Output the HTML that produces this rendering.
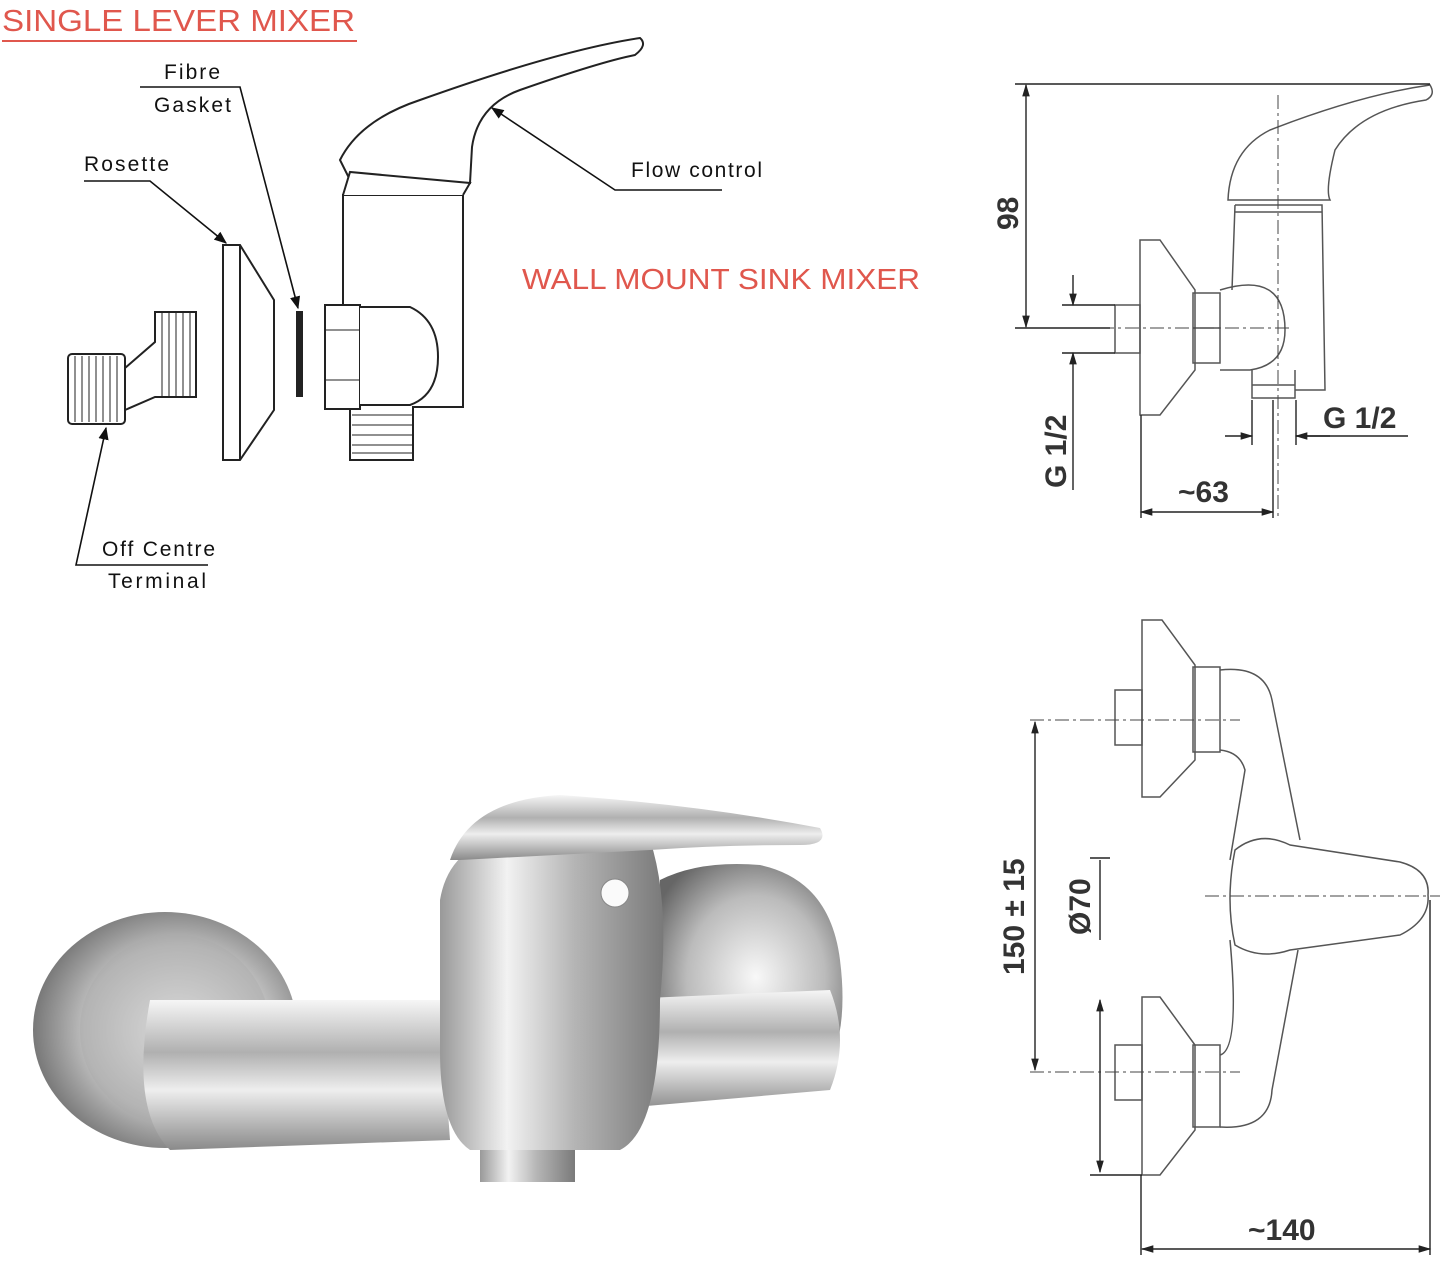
<!DOCTYPE html>
<html><head><meta charset="utf-8"><style>
html,body{margin:0;padding:0;background:#fff;}
svg{display:block;}
text{font-family:"Liberation Sans",sans-serif;}
</style></head><body>
<svg width="1447" height="1264" viewBox="0 0 1447 1264" xmlns="http://www.w3.org/2000/svg">
<defs>
<marker id="ar" viewBox="0 0 10 10" refX="9" refY="5" markerWidth="8" markerHeight="8" orient="auto-start-reverse"><path d="M0,1 L10,5 L0,9 z" fill="#111"/></marker>
<marker id="ab" viewBox="0 0 10 10" refX="9" refY="5" markerWidth="9" markerHeight="9" orient="auto-start-reverse"><path d="M0,2 L10,5 L0,8 z" fill="#222"/></marker>
<linearGradient id="chr" x1="0" y1="0" x2="0" y2="1"><stop offset="0" stop-color="#f6f6f6"/><stop offset=".35" stop-color="#b0b0b0"/><stop offset=".6" stop-color="#eeeeee"/><stop offset="1" stop-color="#8a8a8a"/></linearGradient>
<linearGradient id="chh" x1="0" y1="0" x2="1" y2="0"><stop offset="0" stop-color="#999"/><stop offset=".3" stop-color="#f2f2f2"/><stop offset=".6" stop-color="#b5b5b5"/><stop offset="1" stop-color="#7a7a7a"/></linearGradient>
<radialGradient id="ros" cx=".55" cy=".5" r=".6"><stop offset="0" stop-color="#f8f8f8"/><stop offset=".6" stop-color="#bbb"/><stop offset="1" stop-color="#666"/></radialGradient>
</defs>

<text x="2" y="31" font-size="31" fill="#e0574d" textLength="353" lengthAdjust="spacingAndGlyphs">SINGLE LEVER MIXER</text>
<line x1="2" y1="41" x2="357" y2="41" stroke="#e0574d" stroke-width="2"/>
<text x="522" y="289" font-size="29" fill="#e0574d" textLength="398" lengthAdjust="spacingAndGlyphs">WALL MOUNT SINK MIXER</text>

<g font-size="21" fill="#111">
<text x="164" y="79" textLength="56">Fibre</text>
<text x="154" y="112" textLength="77">Gasket</text>
<text x="84" y="171" textLength="85">Rosette</text>
<text x="631" y="177" textLength="131">Flow control</text>
<text x="102" y="556" textLength="113">Off Centre</text>
<text x="108" y="588" textLength="98">Terminal</text>
</g>
<g stroke="#111" stroke-width="1.6" fill="none">
<polyline points="140,87 240,87 298,308" marker-end="url(#ar)"/>
<polyline points="84,181 150,181 226,243" marker-end="url(#ar)"/>
<polyline points="722,190 615,190 492,108" marker-end="url(#ar)"/>
<polyline points="208,565 76,565 106,428" marker-end="url(#ar)"/>
</g>

<g stroke="#222" stroke-width="2" fill="#fff">
<rect x="68" y="354" width="57" height="70" rx="4"/>
<path d="M125,368 L155,342 L155,312 L196,312 L196,397 L155,397 L125,410 z"/>
<g stroke-width="1">
<path d="M75,356 V422 M82,356 V422 M89,356 V422 M96,356 V422 M103,356 V422 M110,356 V422 M117,356 V422 M162,312 V397 M169,312 V397 M176,312 V397 M183,312 V397 M190,312 V397"/>
</g>
<path d="M223,245 L240,245 L274,300 L274,410 L240,460 L223,460 z"/>
<line x1="240" y1="245" x2="240" y2="460"/>
<rect x="297" y="312" width="5" height="84" fill="#222"/>
<path d="M343,195 L463,195 L463,407 L413,407 L413,460 L350,460 L350,407 L343,407 z"/>
<path d="M325,305 L360,305 L360,409 L325,409 z"/>
<path d="M360,307 L410,307 Q438,320 438,357 Q438,395 410,405 L360,405"/>
<path d="M350,180 L470,183 L472,147 Q478,105 520,90 Q600,62 635,55 Q648,45 640,38 Q560,50 420,100 Q360,120 340,160 Z"/>
<path d="M343,195 L350,172 L470,183 L463,195"/>
<g stroke-width="1"><path d="M352,415 H413 M352,425 H413 M352,435 H413 M352,445 H413 M352,453 H413 M325,330 H360 M325,380 H360"/></g>
</g>

<g stroke="#555" stroke-width="1.5" fill="none">
<path d="M1140,240 L1160,240 L1195,290 L1195,370 L1160,415 L1140,415 z"/>
<rect x="1115" y="305" width="25" height="48"/>
<rect x="1193" y="293" width="27" height="70"/>
<path d="M1193,328 H1220"/>
<path d="M1220,290 Q1285,270 1285,330 Q1285,365 1250,370 L1220,370"/>
<path d="M1235,205 L1322,205 L1325,390 L1295,390 M1232,290 L1235,205"/>
<path d="M1252,370 V398 H1295 V370 M1252,385 H1295"/>
<path d="M1228,200 Q1230,150 1270,130 Q1360,95 1430,85 Q1436,95 1426,100 Q1360,110 1335,150 Q1325,190 1330,200 Z"/>
<path d="M1235,212 H1322"/>
</g>
<g stroke="#444" stroke-width="1" fill="none" stroke-dasharray="14,4,3,4">
<path d="M1278,95 V520 M1050,328 H1290"/>
</g>
<g stroke="#222" stroke-width="1.4" fill="none">
<path d="M1015,84 H1430 M1015,328 H1110"/>
<line x1="1026" y1="85" x2="1026" y2="327" marker-start="url(#ab)" marker-end="url(#ab)"/>
<line x1="1073" y1="275" x2="1073" y2="305" marker-end="url(#ab)"/>
<line x1="1073" y1="385" x2="1073" y2="353" marker-end="url(#ab)"/>
<path d="M1073,385 V490 M1062,305 H1115 M1062,353 H1115"/>
<path d="M1141,415 V518 M1273,400 V518"/>
<line x1="1141" y1="512" x2="1273" y2="512" marker-start="url(#ab)" marker-end="url(#ab)"/>
<line x1="1225" y1="436" x2="1252" y2="436" marker-end="url(#ab)"/>
<line x1="1330" y1="436" x2="1296" y2="436" marker-end="url(#ab)"/>
<path d="M1296,436 H1408 M1252,400 V445 M1296,400 V445"/>
</g>
<g font-size="30" font-weight="bold" fill="#333">
<text transform="translate(1018,230) rotate(-90)">98</text>
<text transform="translate(1066,488) rotate(-90)">G 1/2</text>
<text x="1178" y="502">~63</text>
<text x="1323" y="428">G 1/2</text>
<text transform="translate(1024,975) rotate(-90)">150 ± 15</text>
<text transform="translate(1090,935) rotate(-90)">Ø70</text>
<text x="1248" y="1240">~140</text>
</g>

<g stroke="#555" stroke-width="1.5" fill="none">
<path d="M1142,620 L1162,620 L1195,665 L1195,760 L1160,797 L1142,797 z"/>
<path d="M1142,997 L1160,997 L1195,1045 L1195,1130 L1160,1175 L1142,1175 z"/>
<rect x="1115" y="690" width="27" height="55"/>
<rect x="1115" y="1045" width="27" height="55"/>
<rect x="1193" y="667" width="27" height="85"/>
<rect x="1193" y="1045" width="27" height="82"/>
<path d="M1220,670 Q1265,665 1272,700 L1300,840 M1220,750 Q1240,752 1245,770 L1230,860 M1230,940 Q1240,1050 1220,1055 M1220,1127 Q1270,1130 1272,1090 L1298,950"/>
<path d="M1235,850 Q1260,830 1290,845 L1400,862 Q1430,870 1428,895 Q1430,920 1400,935 L1290,950 Q1260,960 1235,945 Q1225,900 1235,850 z"/>
</g>
<g stroke="#444" stroke-width="1" fill="none" stroke-dasharray="14,4,3,4">
<path d="M1030,720 H1240 M1030,1072 H1240 M1205,896 H1440"/>
</g>
<g stroke="#222" stroke-width="1.4" fill="none">
<line x1="1035" y1="722" x2="1035" y2="1070" marker-start="url(#ab)" marker-end="url(#ab)"/>
<line x1="1100" y1="860" x2="1100" y2="940"/>
<line x1="1100" y1="1000" x2="1100" y2="1172" marker-start="url(#ab)" marker-end="url(#ab)"/>
<path d="M1090,858 H1110 M1090,1175 H1142 M1141,1175 V1255 M1430,900 V1255"/>
<line x1="1142" y1="1249" x2="1430" y2="1249" marker-start="url(#ab)" marker-end="url(#ab)"/>
</g>

<g>
<ellipse cx="165" cy="1030" rx="132" ry="118" fill="url(#ros)"/>
<ellipse cx="175" cy="1030" rx="95" ry="95" fill="#aaa" opacity=".4"/>
<path d="M660,880 Q700,860 760,865 Q830,880 840,960 Q850,1040 820,1080 L650,1090 Z" fill="url(#ros)"/>
<path d="M150,1000 L440,1000 L450,1140 L170,1150 Q130,1110 150,1000 z" fill="url(#chr)"/>
<path d="M600,1000 L830,990 Q850,1040 830,1090 L600,1110 z" fill="url(#chr)"/>
<path d="M440,900 Q450,840 520,835 L650,840 Q670,900 660,1000 Q660,1130 620,1150 L470,1150 Q440,1130 440,1050 z" fill="url(#chh)"/>
<path d="M450,860 Q470,800 560,795 Q700,805 820,828 Q830,845 800,845 Q720,845 650,850 L460,860 z" fill="url(#chr)"/>
<circle cx="615" cy="893" r="14" fill="#fafafa" stroke="#888"/>
<rect x="480" y="1150" width="95" height="32" fill="url(#chh)"/>
</g>
</svg>
</body></html>
